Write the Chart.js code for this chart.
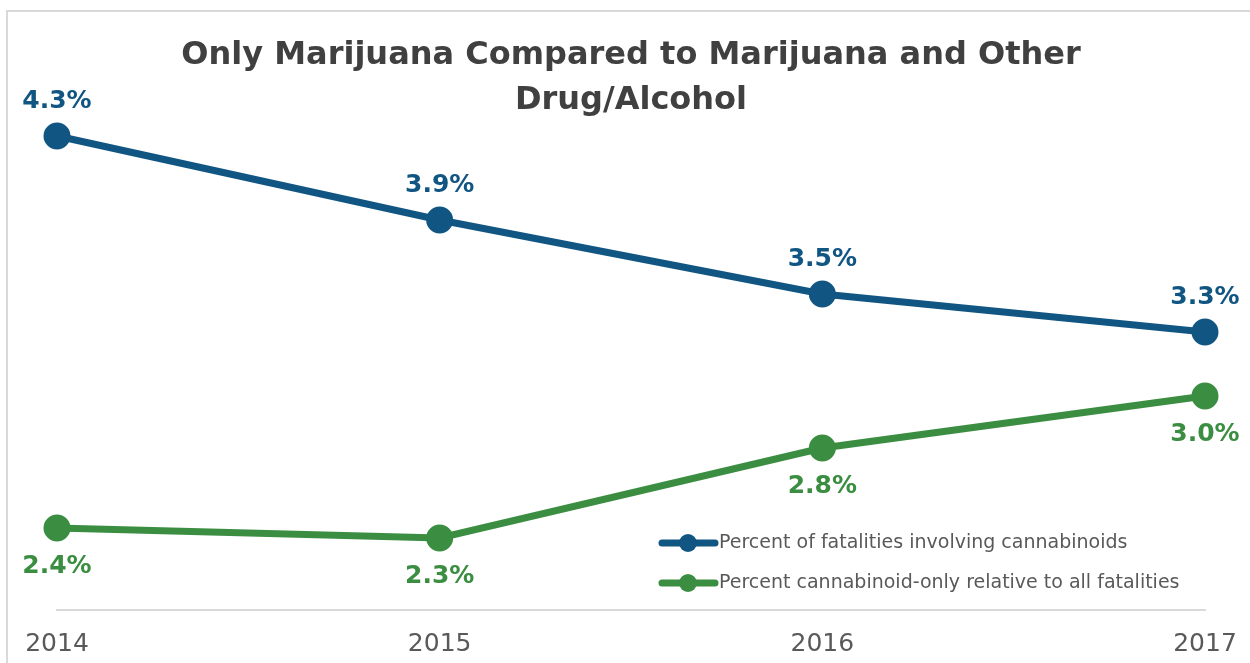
<!DOCTYPE html>
<html>
<head>
<meta charset="utf-8">
<script src="https://cdn.jsdelivr.net/npm/chart.js@4.4.0/dist/chart.umd.min.js"></script>
<style>
  body { margin: 0; background: #fff; }
  #wrap { position: relative; width: 1250px; height: 663px; }
</style>
</head>
<body>
<div id="wrap"><canvas id="fatal_chart"></canvas></div>
<script>
// data
var years = ['2014', '2015', '2016', '2017'];
var cannabinoid_pct = [4.32, 3.9, 3.53, 3.34];
var cannabinoid_only_pct = [2.36, 2.31, 2.76, 3.02];
var series_names = [
  'Percent of fatalities involving cannabinoids',
  'Percent cannabinoid-only relative to all fatalities'
];
var title_lines = ['Only Marijuana Compared to Marijuana and Other', 'Drug/Alcohol'];

var blue = '#115683';
var green = '#3b8e41';
var font_family = '"DejaVu Sans", sans-serif';

// frame + title
var frame_title = {
  id: 'frame_title',
  beforeDraw: function (chart) {
    var ctx = chart.ctx;
    ctx.save();
    ctx.strokeStyle = '#d9d9d9';
    ctx.lineWidth = 2;
    ctx.beginPath();
    ctx.moveTo(7, 663);
    ctx.lineTo(7, 11);
    ctx.lineTo(1250, 11);
    ctx.stroke();
    ctx.restore();
  },
  afterDraw: function (chart) {
    var ctx = chart.ctx;
    ctx.save();
    ctx.fillStyle = '#404040';
    ctx.font = 'bold 32px ' + font_family;
    ctx.textAlign = 'center';
    ctx.textBaseline = 'middle';
    ctx.fillText(title_lines[0], 631, 56);
    ctx.fillText(title_lines[1], 631, 101);
    ctx.restore();
  }
};

// value labels, blue above, green below
var value_labels = {
  id: 'value_labels',
  afterDatasetsDraw: function (chart) {
    var ctx = chart.ctx;
    ctx.save();
    ctx.font = 'bold 25px ' + font_family;
    ctx.textAlign = 'center';
    ctx.textBaseline = 'middle';
    chart.data.datasets.forEach(function (ds, i) {
      var meta = chart.getDatasetMeta(i);
      var off = i == 0 ? -35 : 38;
      ctx.fillStyle = ds.borderColor;
      meta.data.forEach(function (pt, j) {
        ctx.fillText(ds.data[j].toFixed(1) + '%', pt.x, pt.y + off);
      });
    });
    ctx.restore();
  }
};

// legend sitting inside the plot, bottom right
var inner_legend = {
  id: 'inner_legend',
  afterDraw: function (chart) {
    var ctx = chart.ctx;
    ctx.save();
    ctx.font = '19px ' + font_family;
    ctx.textBaseline = 'middle';
    chart.data.datasets.forEach(function (ds, i) {
      var y = 543 + i * 40;
      ctx.strokeStyle = ds.borderColor;
      ctx.lineWidth = 7;
      ctx.lineCap = 'round';
      ctx.beginPath();
      ctx.moveTo(662, y);
      ctx.lineTo(715, y);
      ctx.stroke();
      ctx.fillStyle = ds.borderColor;
      ctx.beginPath();
      ctx.arc(688, y, 9, 0, Math.PI * 2);
      ctx.fill();
      ctx.fillStyle = '#595959';
      ctx.fillText(ds.label, 719, y);
    });
    ctx.restore();
  }
};

var ctx = document.getElementById('fatal_chart').getContext('2d');

var chart = new Chart(ctx, {
  type: 'line',
  data: {
    labels: years,
    datasets: [{
      label: series_names[0],
      data: cannabinoid_pct,
      borderColor: blue,
      backgroundColor: blue,
      borderWidth: 7,
      pointRadius: 10,
      pointHoverRadius: 10,
      tension: 0
    }, {
      label: series_names[1],
      data: cannabinoid_only_pct,
      borderColor: green,
      backgroundColor: green,
      borderWidth: 7,
      pointRadius: 10,
      pointHoverRadius: 10,
      tension: 0
    }]
  },
  options: {
    responsive: true,
    maintainAspectRatio: false,
    animation: false,
    layout: {
      autoPadding: false,
      padding: { left: 57, right: 45, top: 10, bottom: 0 }
    },
    scales: {
      y: {
        display: false,
        min: 1.95,
        max: 4.95
      },
      x: {
        offset: false,
        grid: { display: false, drawTicks: false },
        border: { display: true, color: '#d9d9d9', width: 2 },
        ticks: {
          color: '#595959',
          padding: 19,
          font: { family: font_family, size: 25 }
        },
        afterFit: function (scale) {
          scale.height = 53;
          scale.paddingLeft = 0;
          scale.paddingRight = 0;
        }
      }
    },
    plugins: {
      legend: { display: false },
      title: { display: false },
      tooltip: { enabled: false }
    }
  },
  plugins: [frame_title, value_labels, inner_legend]
});
</script>
</body>
</html>
